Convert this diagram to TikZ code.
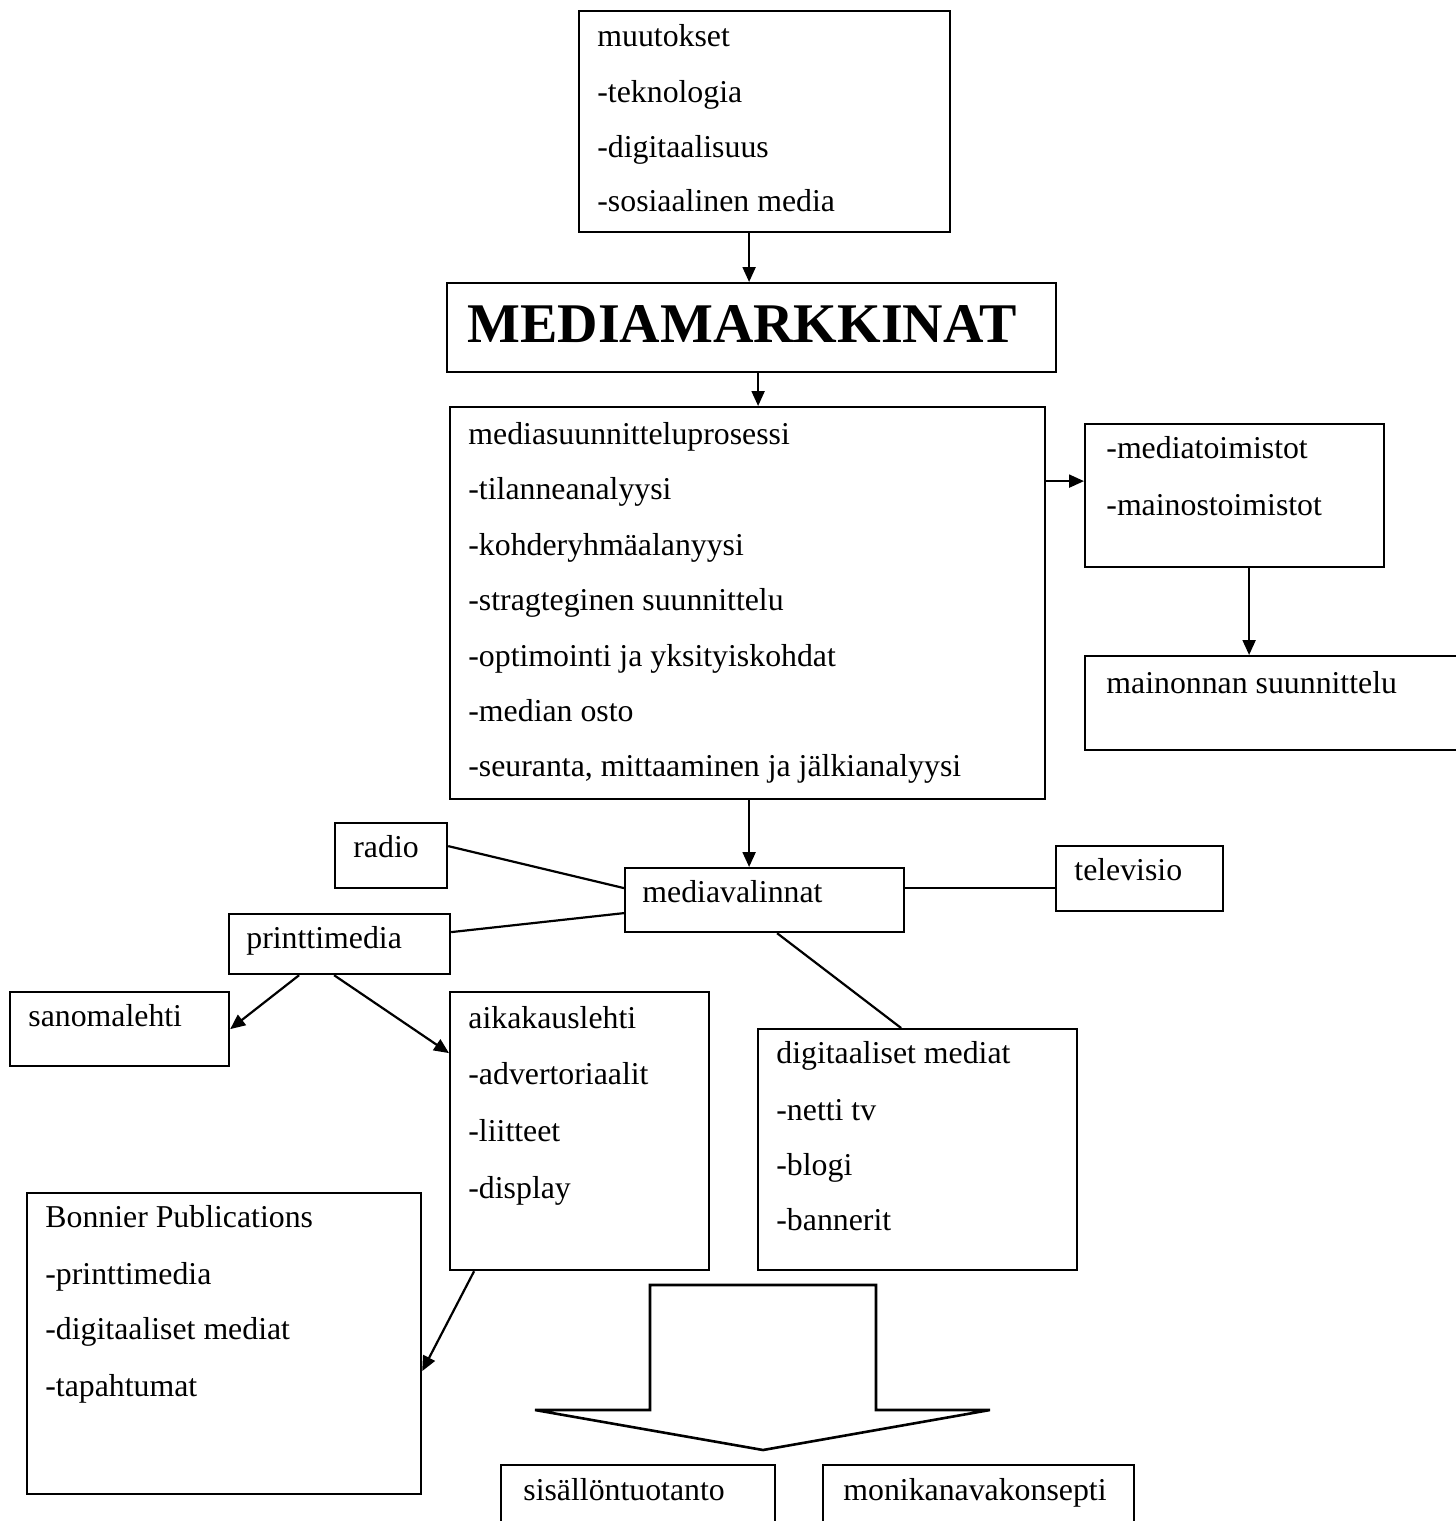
\documentclass[tikz,border=0pt]{standalone}
\usepackage{fontspec}
\setmainfont{Liberation Serif}
\usetikzlibrary{arrows.meta}
\begin{document}
\begin{tikzpicture}[x=0.5pt,y=-0.5pt,
  box/.style={draw, line width=1.1pt, inner sep=0pt, anchor=north west},
  txt/.style={anchor=base west, inner sep=0pt, font=\fontsize{15.9}{18}\selectfont},
  big/.style={anchor=base west, inner sep=0pt, font=\fontsize{28}{32}\selectfont\bfseries},
  arr/.style={line width=1.1pt, -{Triangle[length=7.5pt,width=6.5pt]}},
  con/.style={line width=1.1pt}]
\clip (0,0) rectangle (1456,1521);
\fill[white] (0,0) rectangle (1456,1521);

% boxes
\node[box, minimum width=185.5pt, minimum height=110.5pt] (muut) at (578,10) {};
\node[box, minimum width=304.5pt, minimum height=44.5pt] (mm) at (446,282) {};
\node[box, minimum width=297.5pt, minimum height=196pt] (msp) at (449,406) {};
\node[box, minimum width=149.5pt, minimum height=71.5pt] (mto) at (1084,423) {};
\node[box, minimum width=200pt, minimum height=47pt] (mso) at (1084,655) {};
\node[box, minimum width=56pt, minimum height=32.5pt] (radio) at (334,822) {};
\node[box, minimum width=139.5pt, minimum height=32pt] (mval) at (624,867) {};
\node[box, minimum width=83.5pt, minimum height=32.5pt] (tv) at (1055,845) {};
\node[box, minimum width=110.5pt, minimum height=30pt] (print) at (228,913) {};
\node[box, minimum width=109.5pt, minimum height=37pt] (sano) at (9,991) {};
\node[box, minimum width=129.5pt, minimum height=139pt] (aika) at (449,991) {};
\node[box, minimum width=159.5pt, minimum height=120.5pt] (digi) at (757,1028) {};
\node[box, minimum width=197pt, minimum height=150.5pt] (bonn) at (26,1192) {};
\node[box, minimum width=137pt, minimum height=40pt] (sis) at (500,1464) {};
\node[box, minimum width=155.5pt, minimum height=40pt] (moni) at (822,1464) {};

% texts
\node[txt] (t-muut1) at (597,46) {muutokset};
\node[txt] (t-muut2) at (597,102) {-teknologia};
\node[txt] (t-muut3) at (597,157) {-digitaalisuus};
\node[txt] (t-muut4) at (597,211) {-sosiaalinen media};

\node[big] (t-mm) at (467,342) {MEDIAMARKKINAT};

\node[txt] (t-msp1) at (468,444) {mediasuunnitteluprosessi};
\node[txt] (t-msp2) at (468,499) {-tilanneanalyysi};
\node[txt] (t-msp3) at (468,555) {-kohderyhmäalanyysi};
\node[txt] (t-msp4) at (468,610) {-stragteginen suunnittelu};
\node[txt] (t-msp5) at (468,666) {-optimointi ja yksityiskohdat};
\node[txt] (t-msp6) at (468,721) {-median osto};
\node[txt] (t-msp7) at (468,776) {-seuranta, mittaaminen ja jälkianalyysi};

\node[txt] (t-mto1) at (1106,458) {-mediatoimistot};
\node[txt] (t-mto2) at (1106,515) {-mainostoimistot};
\node[txt] (t-mso) at (1106,693) {mainonnan suunnittelu};

\node[txt] (t-radio) at (353,857) {radio};
\node[txt] (t-mval) at (642,902) {mediavalinnat};
\node[txt] (t-tv) at (1074,880) {televisio};
\node[txt] (t-print) at (246,948) {printtimedia};
\node[txt] (t-sano) at (28,1026) {sanomalehti};

\node[txt] (t-aika1) at (468,1028) {aikakauslehti};
\node[txt] (t-aika2) at (468,1084) {-advertoriaalit};
\node[txt] (t-aika3) at (468,1141) {-liitteet};
\node[txt] (t-aika4) at (468,1198) {-display};

\node[txt] (t-digi1) at (776,1063) {digitaaliset mediat};
\node[txt] (t-digi2) at (776,1120) {-netti tv};
\node[txt] (t-digi3) at (776,1175) {-blogi};
\node[txt] (t-digi4) at (776,1230) {-bannerit};

\node[txt] (t-bonn1) at (45,1227) {Bonnier Publications};
\node[txt] (t-bonn2) at (45,1284) {-printtimedia};
\node[txt] (t-bonn3) at (45,1339) {-digitaaliset mediat};
\node[txt] (t-bonn4) at (45,1396) {-tapahtumat};

\node[txt] (t-sis) at (523,1500) {sisällöntuotanto};
\node[txt] (t-moni) at (843,1500) {monikanavakonsepti};

% connectors
\coordinate (a1) at ([xshift=-7.75pt]muut.south);
\draw[arr] (a1) -- (a1 |- mm.north);
\coordinate (a2) at ([xshift=3.25pt]mm.south);
\draw[arr] (a2) -- (a2 |- msp.north);
\coordinate (a3) at ([yshift=61pt]msp.east);
\draw[arr] (a3) -- (a3 -| mto.west);
\coordinate (a4) at ([xshift=7.25pt]mto.south);
\draw[arr] (a4) -- (a4 |- mso.north);
\coordinate (a5) at ([xshift=0.75pt]msp.south);
\draw[arr] (a5) -- (a5 |- mval.north);
\draw[con] ([yshift=4.75pt]radio.east) -- ([yshift=6pt]mval.west);
\draw[con] ([yshift=6pt]print.east) -- ([yshift=-6.5pt]mval.west);
\coordinate (a6) at ([yshift=6pt]mval.east);
\draw[con] (a6) -- (a6 -| tv.west);
\draw[con] ([xshift=6.25pt]mval.south) -- ([xshift=-8.25pt]digi.north);
\draw[arr] ([xshift=-20.25pt]print.south) -- (sano.east);
\draw[arr] ([xshift=-2.75pt]print.south) -- ([yshift=39pt]aika.west);
\draw[arr] ([xshift=-52.75pt]aika.south) -- ([yshift=-13.75pt]bonn.east);

% big block arrow
\draw[line width=1.3pt, line join=miter]
  (650,1285) -- (876,1285) -- (876,1410) -- (990,1410) -- (763,1450)
  -- (535,1410) -- (650,1410) -- cycle;
\end{tikzpicture}
\end{document}
